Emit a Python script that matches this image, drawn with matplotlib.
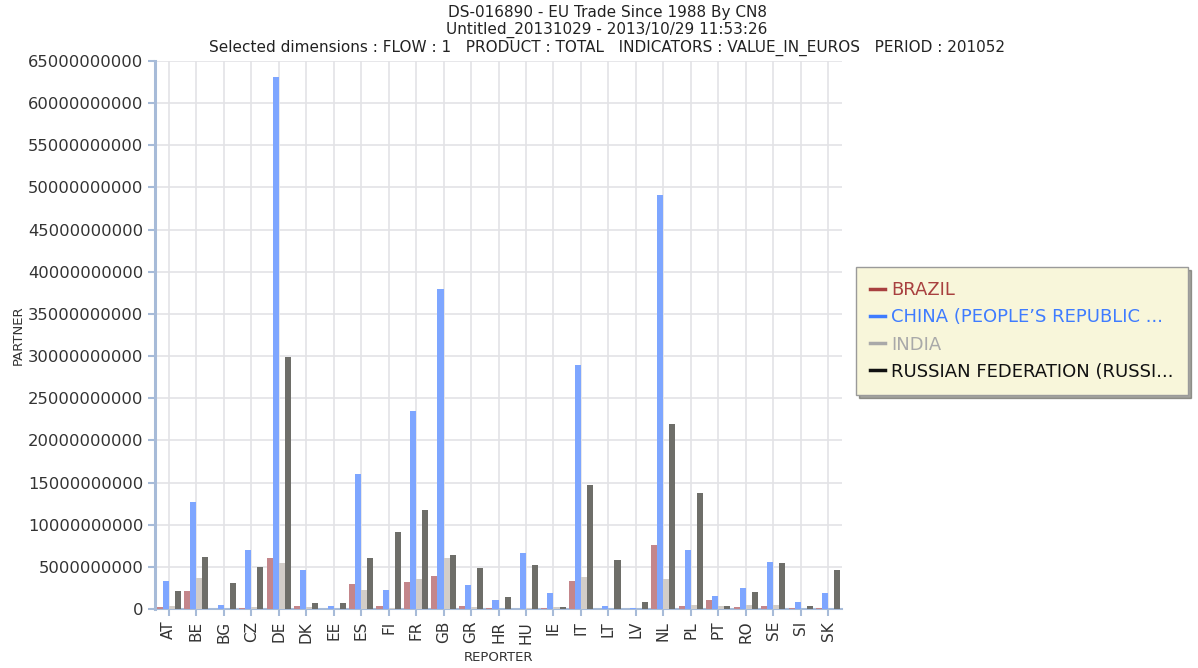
import matplotlib
matplotlib.use("Agg")
import matplotlib.pyplot as plt
from matplotlib.lines import Line2D
import numpy as np

reporters = ["AT", "BE", "BG", "CZ", "DE", "DK", "EE", "ES", "FI", "FR", "GB", "GR", "HR",
             "HU", "IE", "IT", "LT", "LV", "NL", "PL", "PT", "RO", "SE", "SI", "SK"]

brazil = [0.2e9, 2.1e9, 0.05e9, 0.15e9, 6.07e9, 0.36e9, 0.03e9, 2.94e9, 0.4e9, 3.17e9, 3.93e9, 0.3e9, 0.1e9,
          0.05e9, 0.1e9, 3.3e9, 0.05e9, 0.03e9, 7.54e9, 0.3e9, 1.03e9, 0.28e9, 0.36e9, 0.16e9, 0.06e9]
china = [3.37e9, 12.7e9, 0.48e9, 6.95e9, 63.1e9, 4.68e9, 0.36e9, 16.0e9, 2.3e9, 23.5e9, 37.9e9, 2.86e9, 1.03e9,
         6.6e9, 1.87e9, 28.9e9, 0.4e9, 0.16e9, 49.1e9, 6.95e9, 1.5e9, 2.5e9, 5.56e9, 0.87e9, 1.94e9]
india = [0.3e9, 3.7e9, 0.03e9, 0.28e9, 5.5e9, 0.2e9, 0.03e9, 2.3e9, 0.1e9, 3.57e9, 6.1e9, 0.25e9, 0.05e9,
         0.1e9, 0.2e9, 3.77e9, 0.05e9, 0.03e9, 3.57e9, 0.48e9, 0.36e9, 0.48e9, 0.52e9, 0.05e9, 0.05e9]
russia = [2.1e9, 6.2e9, 3.1e9, 4.96e9, 29.9e9, 0.67e9, 0.67e9, 6.07e9, 9.17e9, 11.8e9, 6.39e9, 4.84e9, 1.39e9,
          5.16e9, 0.2e9, 14.7e9, 5.76e9, 0.83e9, 21.9e9, 13.7e9, 0.36e9, 1.98e9, 5.44e9, 0.32e9, 4.68e9]

series_names = ["BRAZIL", "CHINA (PEOPLE\u2019S REPUBLIC ...", "INDIA", "RUSSIAN FEDERATION (RUSSI..."]
bar_colors = ["#c4868b", "#7ea6ff", "#d2cdc8", "#6e6e69"]
legend_colors = ["#a8403f", "#3f7cff", "#a9a9a9", "#111111"]

title_lines = ["DS-016890 - EU Trade Since 1988 By CN8",
               "Untitled_20131029 - 2013/10/29 11:53:26",
               "Selected dimensions : FLOW : 1   PRODUCT : TOTAL   INDICATORS : VALUE_IN_EUROS   PERIOD : 201052"]

W, H = 1198, 668
fig = plt.figure(figsize=(W / 100, H / 100), dpi=100)
ax = fig.add_axes([155 / W, 1 - 609 / H, (842 - 155) / W, (609 - 61) / H])

x = np.arange(len(reporters))
w = 0.22
for i, (vals, c) in enumerate(zip([brazil, china, india, russia], bar_colors)):
    ax.bar(x + (i - 1.5) * w, vals, width=w, color=c, zorder=3, linewidth=0)

ax.set_xlim(-0.5, len(reporters) - 0.5)
ax.set_ylim(0, 65e9)
ax.set_yticks(np.arange(0, 65e9 + 1, 5e9))
ax.set_yticklabels([str(int(v)) for v in np.arange(0, 65e9 + 1, 5e9)])
ax.set_xticks(x)
ax.set_xticklabels(reporters, rotation=90)

axis_col = "#a7bbd8"
text_col = "#333333"
for s in ["top", "right"]:
    ax.spines[s].set_visible(False)
ax.spines["left"].set_color(axis_col)
ax.spines["left"].set_linewidth(2.2)
ax.spines["bottom"].set_color(axis_col)
ax.spines["bottom"].set_linewidth(1.5)
ax.tick_params(axis="both", colors=axis_col, labelcolor=text_col, length=5, width=1.5)
ax.tick_params(axis="y", labelsize=11.8)
ax.tick_params(axis="x", labelsize=11)
ax.grid(True, color="#e3e3e6", linewidth=1.2, zorder=0)
ax.set_axisbelow(True)

ax.set_ylabel("PARTNER", fontsize=9.5, color=text_col)
ax.set_xlabel("REPORTER", fontsize=9.5, color=text_col)
ax.yaxis.set_label_coords(-0.19, 0.5)
ax.xaxis.set_label_coords(0.5, -0.076)

for k, (t, y) in enumerate(zip(title_lines, [12, 30, 48])):
    fig.text(607 / W, 1 - y / H, t, ha="center", va="center", fontsize=11, color="#222222")

handles = [Line2D([0], [0], color=c, linewidth=2.5) for c in legend_colors]
leg = fig.legend(handles, series_names, loc="upper left",
                 bbox_to_anchor=(856 / W, 1 - 267 / H), borderaxespad=0, frameon=True, fancybox=False,
                 shadow=True, fontsize=13, handlelength=0.8, handletextpad=0.35,
                 labelspacing=0.5, borderpad=0.8, labelcolor=legend_colors)
leg.get_frame().set_facecolor("#f8f6da")
leg.get_frame().set_edgecolor("#9a9a9a")

fig.savefig("out.png", dpi=100)
